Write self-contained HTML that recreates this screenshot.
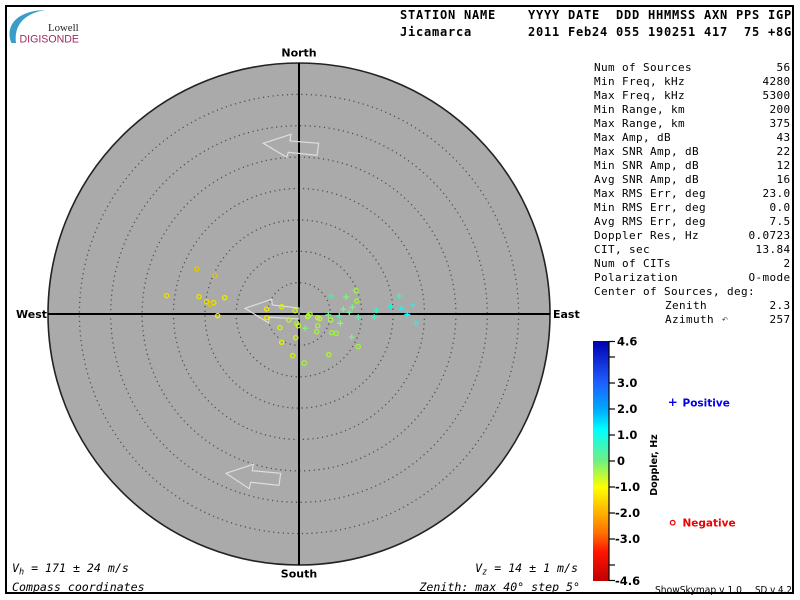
<!DOCTYPE html>
<html><head><meta charset="utf-8"><style>
html,body{margin:0;padding:0;background:#fff;}
svg{display:block;}
.hd{font-family:"DejaVu Sans Mono","Liberation Mono",monospace;font-weight:bold;font-size:12px;letter-spacing:0.78px;fill:#000;}
.tb{font-family:"DejaVu Sans Mono","Liberation Mono",monospace;font-size:11px;letter-spacing:0.38px;fill:#000;}
.cb{font-family:"DejaVu Sans","Liberation Sans",sans-serif;font-weight:bold;font-size:11.5px;fill:#000;}
.dir{font-family:"DejaVu Sans","Liberation Sans",sans-serif;font-weight:bold;font-size:11px;fill:#000;}
.it{font-family:"DejaVu Sans Mono","Liberation Mono",monospace;font-style:italic;font-size:11.6px;fill:#000;}
.sm{font-family:"DejaVu Sans","Liberation Sans",sans-serif;font-size:10px;fill:#000;}
</style></head><body>
<svg width="800" height="600" viewBox="0 0 800 600" xmlns="http://www.w3.org/2000/svg">
<defs>
<linearGradient id="jet" x1="0" y1="0" x2="0" y2="1">
<stop offset="0" stop-color="#0000b0"/>
<stop offset="0.174" stop-color="#1f5fff"/>
<stop offset="0.283" stop-color="#00a8ff"/>
<stop offset="0.37" stop-color="#00ffff"/>
<stop offset="0.5" stop-color="#70f080"/>
<stop offset="0.609" stop-color="#ffff00"/>
<stop offset="0.717" stop-color="#ffb000"/>
<stop offset="0.80" stop-color="#ff7000"/>
<stop offset="0.88" stop-color="#ff1500"/>
<stop offset="1" stop-color="#c00000"/>
</linearGradient>
</defs>
<rect x="0" y="0" width="800" height="600" fill="#fff"/>
<rect x="6" y="6" width="787" height="587" fill="none" stroke="#000" stroke-width="2"/>

<!-- logo -->
<path d="M11.5 43 C5 27 15 11 45 10 C22 14 14 27 16 43 Z" fill="#3a9cc8"/>
<text x="48" y="31" font-family="Liberation Serif,serif" font-size="10.8" fill="#222">Lowell</text>
<text x="19.5" y="42.7" font-family="Liberation Sans,sans-serif" font-size="10.6" fill="#9c2a5e">DIGISONDE</text>

<!-- header -->
<g class="hd">
<text x="400" y="19">STATION</text><text x="464" y="19">NAME</text>
<text x="528" y="19">YYYY</text><text x="568" y="19">DATE</text>
<text x="616" y="19">DDD</text><text x="648" y="19">HHMMSS</text>
<text x="704" y="19">AXN</text><text x="736" y="19">PPS</text><text x="768" y="19">IGP</text>
<text x="400" y="36">Jicamarca</text>
<text x="528" y="36">2011</text><text x="568" y="36">Feb24</text>
<text x="616" y="36">055</text><text x="648" y="36">190251</text>
<text x="704" y="36">417</text><text x="744" y="36">75</text><text x="768" y="36">+8G</text>
</g>

<!-- skymap -->
<circle cx="299" cy="314" r="251" fill="#aaaaaa" stroke="#222" stroke-width="1.6"/>
<g fill="none" stroke="#505050" stroke-width="1.3" stroke-dasharray="1.2 3.6">
<circle cx="299" cy="314" r="31.4"/>
<circle cx="299" cy="314" r="62.8"/>
<circle cx="299" cy="314" r="94.1"/>
<circle cx="299" cy="314" r="125.5"/>
<circle cx="299" cy="314" r="156.9"/>
<circle cx="299" cy="314" r="188.3"/>
<circle cx="299" cy="314" r="219.6"/>
</g>
<line x1="48" y1="314" x2="550" y2="314" stroke="#000" stroke-width="2"/>
<line x1="299" y1="63" x2="299" y2="565" stroke="#000" stroke-width="2"/>

<text class="dir" x="299" y="56.5" text-anchor="middle">North</text>
<text class="dir" x="299" y="577.5" text-anchor="middle">South</text>
<text class="dir" x="16" y="318">West</text>
<text class="dir" x="553" y="318">East</text>

<!-- arrows -->
<g fill="none" stroke="#dedede" stroke-width="1.2" stroke-linejoin="miter">
<polygon points="263.3,143.3 291,134.3 290,141 318.7,143.3 317,155.3 288.3,152.3 286.7,157.3"/>
<polygon points="245,308.3 271.7,299.3 272.3,305 299,308 299,319 269.6,317.3 268.3,322.7"/>
<polygon points="226,473.3 253.3,464.3 252.3,470.7 280.7,473.3 279,485.3 250.7,482.3 249.3,488.7"/>
</g>

<!-- negative (circles) -->
<g fill="none" stroke-width="1.4">
<circle cx="196.7" cy="269" r="2.1" stroke="#e0c800"/>
<circle cx="215" cy="275.7" r="2.1" stroke="#e0c020"/>
<circle cx="166.7" cy="295.7" r="2.1" stroke="#e8e000"/>
<circle cx="199" cy="296.7" r="2.1" stroke="#e8e000"/>
<circle cx="224.7" cy="297.7" r="2.1" stroke="#e8e800"/>
<circle cx="206.7" cy="301.7" r="2.1" stroke="#e8e000"/>
<circle cx="213.7" cy="302.7" r="2.1" stroke="#e8e000"/>
<circle cx="210.3" cy="304.3" r="2.1" stroke="#e0c800"/>
<circle cx="217.7" cy="315.7" r="2.1" stroke="#f0f000"/>
<circle cx="266.7" cy="309" r="2.1" stroke="#e8e800"/>
<circle cx="281.7" cy="306.7" r="2.1" stroke="#d8f000"/>
<circle cx="295" cy="310.7" r="2.1" stroke="#c8f020"/>
<circle cx="266.7" cy="317.7" r="2.1" stroke="#e8e800"/>
<circle cx="289" cy="320" r="2.1" stroke="#b8f040"/>
<circle cx="296.7" cy="323.3" r="2.1" stroke="#a8f040"/>
<circle cx="298.3" cy="325.7" r="2.1" stroke="#c8f020"/>
<circle cx="280" cy="327.7" r="2.1" stroke="#d8f000"/>
<circle cx="295.7" cy="337.7" r="2.1" stroke="#d8f000"/>
<circle cx="281.7" cy="342.3" r="2.1" stroke="#e0f000"/>
<circle cx="292.7" cy="355.7" r="2.1" stroke="#d0f000"/>
<circle cx="304.3" cy="363" r="2.3" stroke="#a0f040"/>
<circle cx="308.3" cy="315.7" r="2.1" stroke="#a0f040"/>
<circle cx="310" cy="314.3" r="2.1" stroke="#b0f040"/>
<circle cx="307.7" cy="316.7" r="2.1" stroke="#b0f040"/>
<circle cx="317.7" cy="317.7" r="2.1" stroke="#c0f030"/>
<circle cx="319.7" cy="318.7" r="2.1" stroke="#c0f030"/>
<circle cx="330.7" cy="320" r="2.1" stroke="#b0f040"/>
<circle cx="317.7" cy="325.7" r="2.1" stroke="#a8f040"/>
<circle cx="316.7" cy="331.7" r="2.1" stroke="#a8f040"/>
<circle cx="331.7" cy="332.7" r="2.1" stroke="#a0f040"/>
<circle cx="336.3" cy="333.3" r="2.1" stroke="#a0f040"/>
<circle cx="356" cy="290.7" r="2.1" stroke="#a0f040"/>
<circle cx="356.7" cy="301" r="2.1" stroke="#a0f040"/>
<circle cx="358.3" cy="346.7" r="2.1" stroke="#a0f040"/>
<circle cx="328.7" cy="354.7" r="2.1" stroke="#b0f040"/>
</g>

<!-- positive (crosses) -->
<g stroke-width="1.4" fill="none">
<path d="M328.3 296h6M331.3 293v6" stroke="#40f0a0"/>
<path d="M343.3 297h6M346.3 294v6" stroke="#80f080"/>
<path d="M396.3 296h6M399.3 293v6" stroke="#40f0c0"/>
<path d="M349.3 307.3h6M352.3 304.3v6" stroke="#80f080"/>
<path d="M340.3 309.3h6M343.3 306.3v6" stroke="#80f080"/>
<path d="M373.3 310.3h6M376.3 307.3v6" stroke="#40f0c0"/>
<path d="M387.7 306h6M390.7 303v6" stroke="#20f0e0"/>
<path d="M398.3 308.3h6M401.3 305.3v6" stroke="#20f0f0"/>
<path d="M410.3 305.3h6M413.3 302.3v6" stroke="#20f0f0"/>
<path d="M325.3 315h6M328.3 312v6" stroke="#70f080"/>
<path d="M336.3 316h6M339.3 313v6" stroke="#50f0b0"/>
<path d="M346.3 312.3h6M349.3 309.3v6" stroke="#70f090"/>
<path d="M355.3 317.3h6M358.3 314.3v6" stroke="#50f0b0"/>
<path d="M371.3 317.3h6M374.3 314.3v6" stroke="#40f0c0"/>
<path d="M404.3 314.3h6M407.3 311.3v6" stroke="#00ffff"/>
<path d="M412.7 323.3h6M415.7 320.3v6" stroke="#20f0f0"/>
<path d="M337.3 323.3h6M340.3 320.3v6" stroke="#90f080"/>
<path d="M302.3 328.3h6M305.3 325.3v6" stroke="#80f080"/>
<path d="M348.7 337.3h6M351.7 334.3v6" stroke="#80f080"/>
</g>

<!-- stats table -->
<g class="tb">
<text x="594" y="71">Num of Sources</text><text x="790.5" y="71" text-anchor="end">56</text>
<text x="594" y="85">Min Freq, kHz</text><text x="790.5" y="85" text-anchor="end">4280</text>
<text x="594" y="99">Max Freq, kHz</text><text x="790.5" y="99" text-anchor="end">5300</text>
<text x="594" y="113">Min Range, km</text><text x="790.5" y="113" text-anchor="end">200</text>
<text x="594" y="127">Max Range, km</text><text x="790.5" y="127" text-anchor="end">375</text>
<text x="594" y="141">Max Amp, dB</text><text x="790.5" y="141" text-anchor="end">43</text>
<text x="594" y="155">Max SNR Amp, dB</text><text x="790.5" y="155" text-anchor="end">22</text>
<text x="594" y="169">Min SNR Amp, dB</text><text x="790.5" y="169" text-anchor="end">12</text>
<text x="594" y="183">Avg SNR Amp, dB</text><text x="790.5" y="183" text-anchor="end">16</text>
<text x="594" y="197">Max RMS Err, deg</text><text x="790.5" y="197" text-anchor="end">23.0</text>
<text x="594" y="211">Min RMS Err, deg</text><text x="790.5" y="211" text-anchor="end">0.0</text>
<text x="594" y="225">Avg RMS Err, deg</text><text x="790.5" y="225" text-anchor="end">7.5</text>
<text x="594" y="239">Doppler Res, Hz</text><text x="790.5" y="239" text-anchor="end">0.0723</text>
<text x="594" y="253">CIT, sec</text><text x="790.5" y="253" text-anchor="end">13.84</text>
<text x="594" y="267">Num of CITs</text><text x="790.5" y="267" text-anchor="end">2</text>
<text x="594" y="281">Polarization</text><text x="790.5" y="281" text-anchor="end">O-mode</text>
<text x="594" y="295">Center of Sources, deg:</text>
<text x="665" y="309">Zenith</text><text x="790.5" y="309" text-anchor="end">2.3</text>
<text x="665" y="323">Azimuth</text><text x="790.5" y="323" text-anchor="end">257</text>
</g>
<text x="722" y="322" font-family="DejaVu Sans,sans-serif" font-size="7" fill="#333">↶</text>

<!-- colorbar -->
<rect x="593" y="341" width="16" height="240" fill="url(#jet)"/>
<line x1="609" y1="341" x2="609" y2="581" stroke="#000" stroke-width="1.2"/>
<g stroke="#000" stroke-width="1.2">
<line x1="609" y1="341.5" x2="615" y2="341.5"/>
<line x1="609" y1="357" x2="615" y2="357"/>
<line x1="609" y1="383" x2="615" y2="383"/>
<line x1="609" y1="409" x2="615" y2="409"/>
<line x1="609" y1="435" x2="615" y2="435"/>
<line x1="609" y1="461" x2="615" y2="461"/>
<line x1="609" y1="487" x2="615" y2="487"/>
<line x1="609" y1="513" x2="615" y2="513"/>
<line x1="609" y1="539" x2="615" y2="539"/>
<line x1="609" y1="565" x2="615" y2="565"/>
<line x1="609" y1="580.5" x2="615" y2="580.5"/>
</g>
<g class="cb">
<text x="617" y="345.5">4.6</text>
<text x="617" y="387">3.0</text>
<text x="617" y="413">2.0</text>
<text x="617" y="439">1.0</text>
<text x="617" y="465">0</text>
<text x="615" y="491">-1.0</text>
<text x="615" y="517">-2.0</text>
<text x="615" y="543">-3.0</text>
<text x="615" y="585">-4.6</text>
</g>
<text transform="translate(657,465) rotate(-90)" text-anchor="middle" font-family="DejaVu Sans,sans-serif" font-weight="bold" font-size="9.5" fill="#000">Doppler, Hz</text>

<path d="M669 402.3h7.5M672.7 398.5v7.5" stroke="#0000ee" stroke-width="1.3"/>
<text x="682.5" y="406.3" font-family="DejaVu Sans,sans-serif" font-weight="bold" font-size="10.5" fill="#0000ee">Positive</text>
<circle cx="672.7" cy="522.7" r="2.3" fill="none" stroke="#ee0000" stroke-width="1.3"/>
<text x="682.5" y="526.7" font-family="DejaVu Sans,sans-serif" font-weight="bold" font-size="10.5" fill="#ee0000">Negative</text>

<text class="sm" x="655" y="593" textLength="87" lengthAdjust="spacingAndGlyphs">ShowSkymap v 1.0</text>
<text class="sm" x="755" y="593" textLength="37" lengthAdjust="spacingAndGlyphs">SD v 4.2</text>

<!-- bottom notes -->
<text class="it" x="12" y="572">V<tspan font-size="8.5" dy="2.5">h</tspan><tspan dy="-2.5"> = 171 ± 24 m/s</tspan></text>
<text class="it" x="12" y="591">Compass coordinates</text>
<text class="it" x="578" y="572" text-anchor="end">V<tspan font-size="8.5" dy="2.5">z</tspan><tspan dy="-2.5"> = 14 ± 1 m/s</tspan></text>
<text class="it" x="580" y="591" text-anchor="end">Zenith: max 40°  step 5°</text>
</svg>
</body></html>
